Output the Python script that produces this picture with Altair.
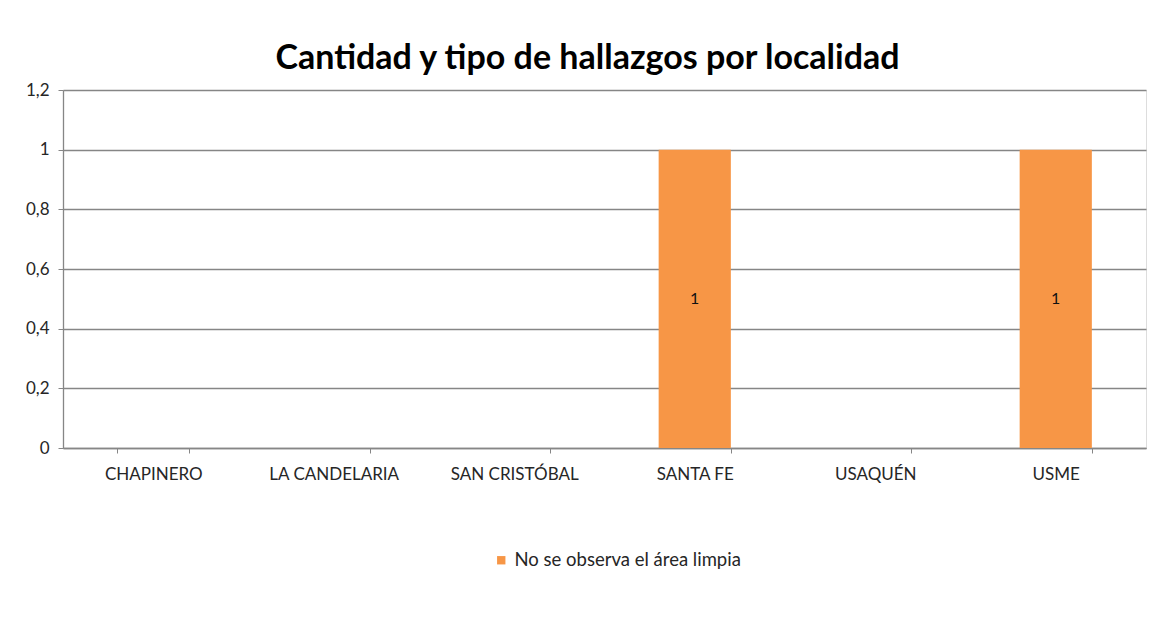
import altair as alt
import pandas as pd

localidades = ["CHAPINERO", "LA CANDELARIA", "SAN CRISTÓBAL", "SANTA FE", "USAQUÉN", "USME"]
valores = [None, None, None, 1, None, 1]
serie = "No se observa el área limpia"
y_ticks = [0, 0.2, 0.4, 0.6, 0.8, 1.0, 1.2]

df = pd.DataFrame({"localidad": localidades, "valor": valores, "tipo": [serie] * len(localidades)})

FONT = "Lato"
TXT = "#262626"
GRID = "#868686"

x_enc = alt.X(
    "localidad:N",
    sort=localidades,
    scale=alt.Scale(domain=localidades, paddingInner=0.6, paddingOuter=0.3),
    axis=alt.Axis(
        title=None, labelAngle=0, tickBand="extent", ticks=True, tickSize=5,
        tickColor=GRID, domainColor=GRID, domainWidth=1.3, labelPadding=13, labelFontSize=17,
        labelFont=FONT, labelColor=TXT, grid=False,
    ),
)

bars = alt.Chart(df).mark_bar(color="#F79646").encode(
    x=x_enc,
    y=alt.Y(
        "valor:Q",
        scale=alt.Scale(domain=[0, 1.2], nice=False),
        axis=alt.Axis(
            title=None, values=y_ticks, labelExpr="replace(format(datum.value, '~r'), '.', ',')",
            grid=True, gridColor=GRID, gridWidth=1.3, tickColor=GRID, tickSize=5,
            domainColor=GRID, domainWidth=1.3, labelPadding=9, labelFontSize=17, labelFont=FONT,
            labelColor=TXT,
        ),
    ),
    color=alt.Color(
        "tipo:N",
        scale=alt.Scale(domain=[serie], range=["#F79646"]),
        legend=alt.Legend(
            title=None, orient="none", legendX=429, legendY=461, symbolType="square",
            symbolSize=70, symbolStrokeWidth=0, labelFontSize=18.5, labelFont=FONT,
            labelColor=TXT, labelLimit=500,
        ),
    ),
)

labels = alt.Chart(df).transform_filter("datum.valor > 0").transform_calculate(
    mid="datum.valor / 2"
).mark_text(fontSize=16, font=FONT, color="#111111").encode(
    x=alt.X("localidad:N", sort=localidades),
    y=alt.Y("mid:Q"),
    text=alt.Text("valor:Q", format="~r"),
)

chart = (
    alt.layer(bars, labels)
    .properties(
        width=1083,
        height=358,
        autosize=alt.AutoSizeParams(type="none"),
        padding={"left": 55, "top": 82, "right": 10, "bottom": 187},
        title=alt.TitleParams(
            "Cantidad y tipo de hallazgos por localidad", fontSize=34, font=FONT,
            fontWeight="bold", color="#000000", anchor="middle", frame="group",
            dx=-17, offset=5,
        ),
    )
    .configure_view(stroke=None)
    .configure(background="white")
)

chart.save("out.html", embed_options={"renderer": "svg", "actions": False})
